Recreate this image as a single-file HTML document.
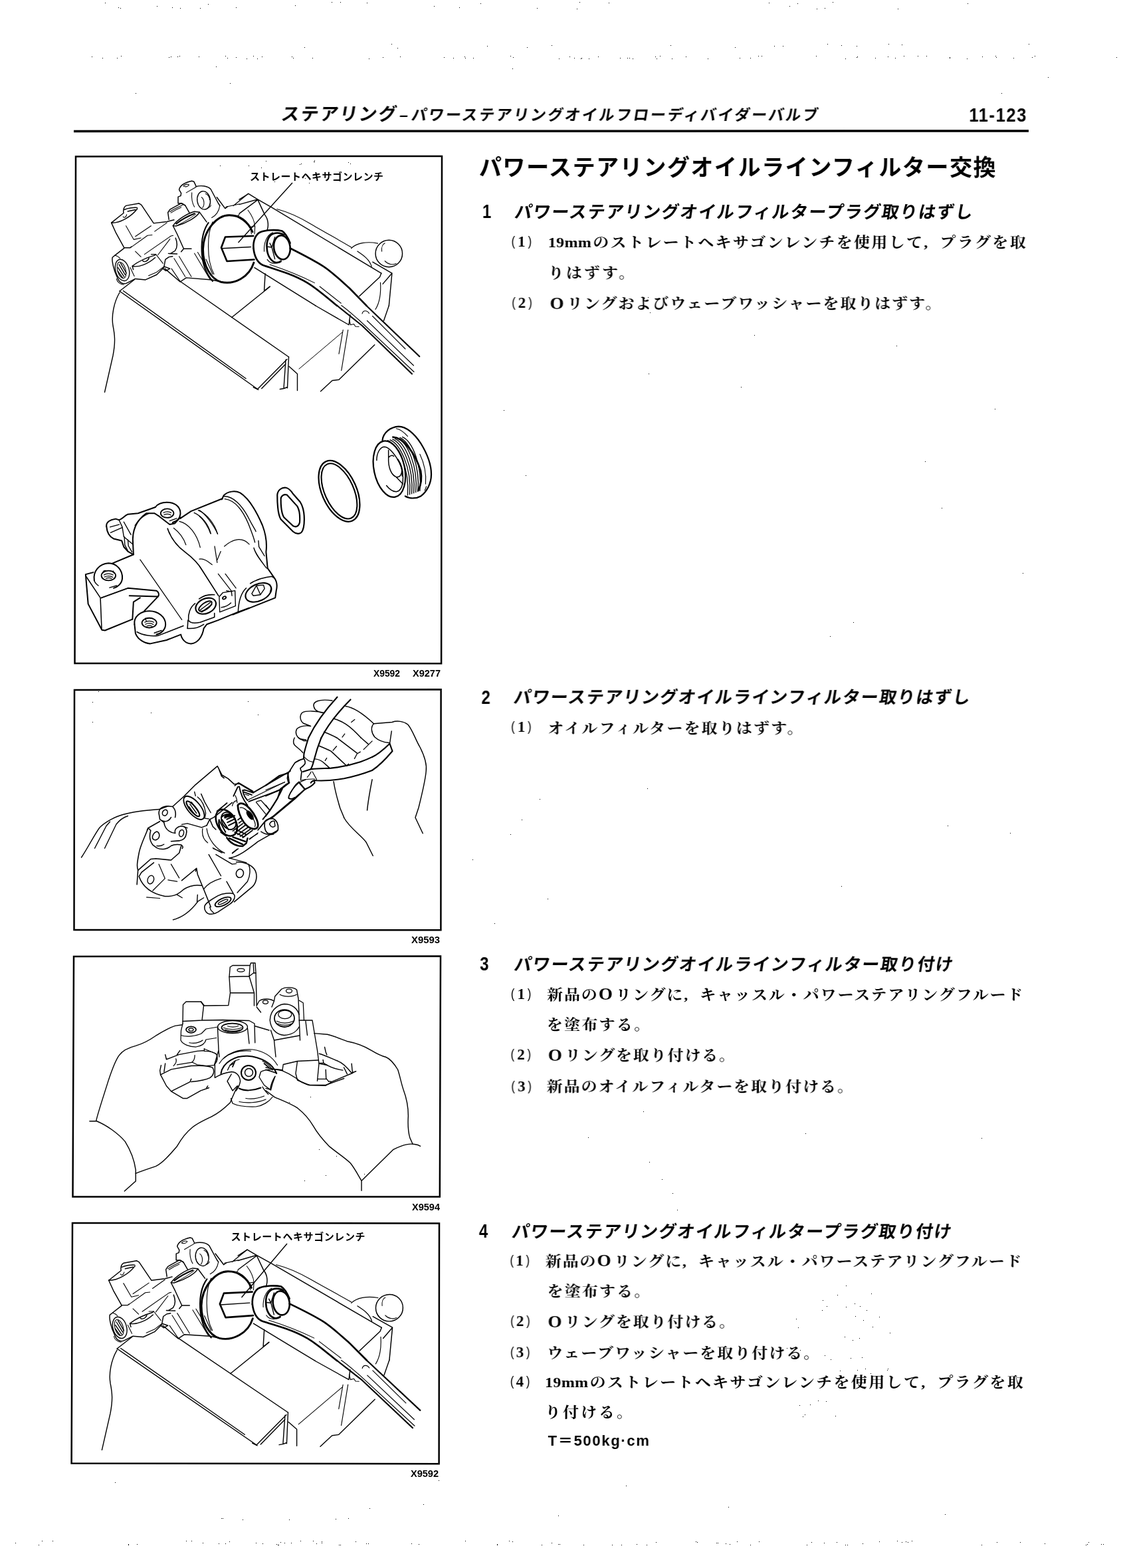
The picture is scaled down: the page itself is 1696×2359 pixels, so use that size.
<!DOCTYPE html>
<html lang="ja">
<head>
<meta charset="utf-8">
<title>11-123 パワーステアリングオイルラインフィルター交換</title>
<style>
html,body{margin:0;padding:0;background:#fff;}
body{width:1696px;height:2359px;overflow:hidden;position:relative;}
#page{position:absolute;left:0;top:0;width:1696px;height:2359px;overflow:hidden;background:#fff;color:#000;}
#art{position:absolute;left:0;top:0;transform:translateZ(0);will-change:transform;}
#txt{position:absolute;left:0;top:0;width:1696px;height:2359px;transform-origin:0 0;transform:skewX(-0.19deg) translateZ(0);will-change:transform;}
.t{position:absolute;white-space:nowrap;line-height:1;color:#000;transform-origin:0 50%;}
.hd{font-family:"Liberation Sans","Noto Sans CJK JP",sans-serif;font-weight:700;font-size:23px;transform:skewX(-9deg);}
.pn{font-family:"Liberation Sans","Noto Sans CJK JP",sans-serif;font-weight:700;font-size:30px;transform:scaleX(0.85);}
.ttl{font-family:"Liberation Sans","Noto Sans CJK JP",sans-serif;font-weight:700;font-size:34px;}
.h{font-family:"Liberation Sans","Noto Sans CJK JP",sans-serif;font-weight:700;font-size:26px;transform:skewX(-9deg);}
.hn{font-family:"Liberation Sans","Noto Sans CJK JP",sans-serif;font-weight:700;font-size:30px;transform:scaleX(0.8);}
.b{font-family:"Liberation Serif","Noto Serif CJK SC",serif;font-weight:700;font-size:22px;transform:scaleX(1.09);}
.b .l{letter-spacing:0.3px;margin-right:2px;}
.b .o{margin-right:2px;font-size:25px;line-height:0;position:relative;top:0.5px;}
.b .k{}
.b .cm{display:inline-block;width:22px;}
.bn{font-family:"Liberation Serif","Noto Serif CJK SC",serif;font-weight:700;font-size:23px;}
.bn .p:first-child{margin-right:3px;}
.bn .p:last-child{margin-left:3px;}
.bn .p{font-weight:400;font-family:"Liberation Sans",sans-serif;font-size:21px;position:relative;top:-1.5px;display:inline-block;transform:scaleX(0.8);}
.tq{font-family:"Liberation Sans","Noto Sans CJK JP",sans-serif;font-weight:700;font-size:22px;}
.hd .w{letter-spacing:2.2px;font-size:27px;}
.hd .d{letter-spacing:0;margin:0 5px 0 3px;}

</style>
</head>
<body>
<div id="page">
<svg id="art" width="1696" height="2359" viewBox="0 0 1696 2359">
<g id="frames" fill="none" stroke="#000" stroke-width="2.5" stroke-linejoin="miter">
<line x1="111" y1="197.4" x2="1548" y2="197" stroke-width="3.5"/>
<polygon points="114,235.4 665,234.9 664.1,998.2 112.5,997.9"/>
<polygon points="112,1038 663.6,1037.2 663.4,1399.2 111.5,1399"/>
<polygon points="111,1439 663,1438.5 661.8,1800.6 109.5,1800.4"/>
<polygon points="109,1840 661,1840.4 660.6,2202.2 107.6,2201.6"/>
</g>
<g id="caps" font-family="'Liberation Sans','Noto Sans CJK JP',sans-serif" font-weight="700" font-size="14.5" fill="#000">
<text x="562" y="1018" textLength="40" lengthAdjust="spacingAndGlyphs">X9592</text>
<text x="621" y="1018" textLength="42" lengthAdjust="spacingAndGlyphs">X9277</text>
<text x="619" y="1419" textLength="43" lengthAdjust="spacingAndGlyphs">X9593</text>
<text x="620" y="1821" textLength="42" lengthAdjust="spacingAndGlyphs">X9594</text>
<text x="618" y="2222" textLength="42" lengthAdjust="spacingAndGlyphs">X9592</text>
</g>

<g id="fig1" transform="translate(120,250) scale(0.25)">
<g fill="none" stroke="#000" stroke-width="5.6" stroke-linecap="round" stroke-linejoin="round">
<!-- vise -->
<path d="M240,752 L1068,1340 M262,750 L1000,1278"/>
<path d="M330,682 L240,752"/>
<path d="M600,690 L1258,1148"/>
<path d="M1258,1148 L1250,1335 M1240,1165 L1228,1338 M1070,1342 L1248,1162 M1095,1338 L1240,1190 M1205,1342 L1228,1338 L1250,1330 M1045,1330 L1075,1345"/>
<path d="M240,760 C205,820 190,900 200,960 C212,1020 215,1060 200,1140 L150,1360"/>
<path d="M915,910 L1145,725"/>
<path d="M1420,840 L1620,955 L1628,895"/>
<path d="M1861,840 L1830,930"/>
<path d="M1810,700 C1815,780 1800,830 1780,862" stroke-width="4.5"/>
<path d="M1450,1355 L1520,1290 L1560,1285 L1775,1075"/>
<path d="M1320,1220 L1580,1000" stroke-width="4"/>
<path d="M1585,985 L1560,1130 M1615,985 L1575,1230" stroke-width="4.5"/>
<path d="M1260,1205 L1310,1250 L1310,1350"/>
<path d="M1622,925 L1630,955 L1650,950 L1660,965 L1680,966" stroke-width="4.5"/>
<!-- wrench handle far part -->
<g stroke-width="8.5">
<path d="M1726,840 L2045,1145"/>
<path d="M1548,838 C1600,880 1650,920 1700,960 L2000,1250"/>
</g>
<path d="M1575,838 C1620,870 1650,900 1680,925 L2012,1238" stroke-width="4.5"/>
<path d="M1700,888 C1705,866 1730,866 1742,886 M1730,930 L2010,1200 M1762,902 L1960,1100" stroke-width="4.5"/>
<!-- hex shaft -->
<g stroke-width="10.5">
<path d="M852,490 L876,426 L1045,420 M852,490 L886,572 L1050,562"/>
</g>
<path d="M856,495 L1030,486"/>
<!-- flange -->
<path d="M1040,395 C1010,330 960,295 900,295 C830,295 745,380 742,500 C742,600 790,680 850,697 C930,715 1020,670 1048,580" stroke-width="11.5"/>
<path d="M775,340 C718,420 716,600 800,692" stroke-width="8.5"/>
<path d="M800,335 C768,400 760,560 808,650 M760,560 L800,650" stroke-width="4.5"/>
<!-- socket / wrench near part / far jaw edge / ball (traced at 6.5x) -->
<g transform="translate(960,120) scale(0.6131)" stroke-width="9.5">
<g stroke-width="17">
<path d="M140,610 C135,540 160,470 210,450 C260,430 360,425 420,440 C450,460 480,510 500,560"/>
<path d="M140,610 C150,700 180,750 230,775 C300,800 400,830 480,860 C560,890 620,920 670,950 C740,990 860,1090 960,1174"/>
<ellipse cx="420" cy="602" rx="80" ry="118" transform="rotate(-8 420 602)"/>
<path d="M272,610 C265,540 290,480 340,465 C370,455 420,460 440,480 M272,610 C275,680 310,740 360,750 C385,752 400,745 410,735"/>
<path d="M500,610 C600,660 720,720 830,790 C920,850 1000,930 1080,1000 L1250,1174"/>
</g>
<path d="M245,640 C240,560 270,480 330,455 M275,720 C300,760 340,770 410,745" stroke-width="7"/>
<path d="M280,595 L320,600 L350,500 M320,600 L350,715 M300,560 L320,600" stroke-width="9"/>
<path d="M300,770 C450,820 600,880 740,950 M790,985 L1000,1150" stroke-width="7"/>
<!-- jaw near edge -->
<path d="M150,800 L750,1174 M255,860 L245,1030 M300,985 L250,1025"/>
<!-- far edge -->
<path d="M0,132 L90,75 L180,130 L320,210 L1395,855"/>
<path d="M370,225 C500,260 600,310 700,370 C800,430 1000,540 1100,600" stroke-width="7"/>
<path d="M1100,610 C1150,560 1250,540 1360,562 M1160,640 C1220,680 1280,720 1300,790" stroke-width="8"/>
<path d="M1395,855 L1380,892 L1180,1080 M1310,745 L1500,855 L1470,1174 M1500,855 L1410,960"/>
<circle cx="1470" cy="662" r="132"/>
<path d="M1400,640 C1395,600 1410,570 1430,560 M1430,735 C1460,770 1510,775 1540,760" stroke-width="7"/>
<!-- block behind flange -->
<path d="M0,180 L180,130 L250,280 C290,330 290,400 270,440 M0,270 L175,140 M0,312 C50,340 90,380 120,420" />
<path d="M85,235 C120,280 150,340 155,400 M110,400 L155,395 L150,470 M110,400 L120,470" stroke-width="7"/>
</g>
<path d="M880,245 L960,228 M1015,165 L925,238 M950,300 L960,292" stroke-width="5"/>
<!-- valve body (traced at 6.5x) -->
<g transform="translate(120,40) scale(0.6131)" stroke-width="9.5">
<!-- boss A -->
<path d="M115,490 L235,395 C228,360 240,330 260,322 L385,300 L410,315 L530,495 L660,480 L730,462"/>
<path d="M115,490 C200,495 310,430 370,352 M240,362 C280,345 340,338 368,342 M275,378 L350,362"/>
<path d="M230,430 C235,446 260,440 265,410" stroke-width="7"/>
<path d="M115,490 L160,590 L240,735 L300,735 L312,725"/>
<path d="M258,520 L335,655 L405,640 M350,625 L505,520 M540,575 L660,490 M312,728 L470,615 L515,610" stroke-width="7"/>
<!-- boss B -->
<path d="M780,165 C790,120 850,92 905,80 L925,86 L945,128 M780,165 L800,200 L796,226 L770,236 L770,300 L810,300 L840,320"/>
<path d="M822,130 C835,112 865,108 878,118 C870,135 840,142 822,130 Z M850,195 L945,140" stroke-width="7"/>
<path d="M945,135 C1000,120 1060,130 1090,160 L1165,300 L1180,322 M1150,240 L1232,350 L1255,332"/>
<ellipse cx="1022" cy="270" rx="64" ry="90" transform="rotate(-8 1022 270)" stroke-width="9"/>
<path d="M1000,240 C1030,262 1030,320 1010,342 M1040,205 C1065,215 1078,240 1080,265 M1060,345 C1080,340 1090,330 1092,318" stroke-width="7"/>
<path d="M905,195 C900,250 910,300 930,335 M1180,322 C1170,380 1140,420 1100,440" stroke-width="7"/>
<!-- small boss -->
<path d="M680,460 L670,390 L690,360 L800,300 L840,320 L880,390"/>
<path d="M690,382 C720,360 780,332 812,318 M700,392 C730,372 770,352 800,340" stroke-width="7"/>
<!-- boss C -->
<path d="M720,520 C760,460 860,400 930,380 L980,386 C960,430 860,490 750,522 Z"/>
<path d="M752,500 C800,462 880,420 932,400" stroke-width="14"/>
<path d="M770,512 C820,488 900,440 945,405" stroke-width="6"/>
<path d="M720,520 L760,600 L825,745 L900,745 M980,386 L1050,482 M825,745 L800,775 M745,640 C765,690 765,730 740,765 L700,790 M675,792 L760,796"/>
<!-- port D -->
<path d="M240,740 L150,810 L125,830 C118,870 140,960 170,1020 C190,1080 230,1102 270,1080 L350,1040 L450,1050 L560,1000 L630,930"/>
<ellipse cx="222" cy="955" rx="66" ry="108" transform="rotate(-16 222 955)" stroke-width="9"/>
<ellipse cx="215" cy="955" rx="40" ry="82" transform="rotate(-16 215 955)" stroke-width="7"/>
<path d="M190,900 L250,1000 M180,930 L240,1020 M205,885 L262,985 M178,965 L225,1030" stroke-width="9"/>
<path d="M150,810 C170,815 190,825 200,840 M300,930 L340,1015 M165,1040 C170,1070 200,1095 235,1098" stroke-width="7"/>
<!-- boss E -->
<path d="M320,915 C380,870 470,830 540,810 L550,800 M320,915 C380,932 480,892 545,832 M320,915 L330,950"/>
<path d="M420,860 C430,882 470,872 485,836" stroke-width="9"/>
<path d="M350,770 L405,825 M440,800 L700,620 L722,615 M505,800 L552,800 L622,890 M572,806 L690,650 M480,1010 L560,975 L632,920" stroke-width="7"/>
<path d="M632,920 L645,850 L680,826 L716,820 M632,920 L690,940 L650,962 L620,940"/>
<!-- main body -->
<path d="M640,940 L790,1070 L850,1030 L1100,1050 L1200,1072"/>
<path d="M730,840 L840,1020 M780,820 L900,1020 M705,940 L790,1066 M930,790 L1080,1040 M962,780 L1100,1010" stroke-width="7"/>
</g>
</g>
</g>
<path d="M440,275 L358.5,365" fill="none" stroke="#000" stroke-width="1.4"/>
<text x="376" y="270.5" font-family="'Liberation Sans','Noto Sans CJK JP',sans-serif" font-weight="700" font-size="15" textLength="201" lengthAdjust="spacing" fill="#000">ストレートヘキサゴンレンチ</text>

<g id="fig1b" transform="translate(125,740) scale(0.15328)" fill="none" stroke="#000" stroke-width="13" stroke-linecap="round" stroke-linejoin="round">
<!-- left block -->
<path d="M25,810 L100,790 M25,810 L50,1100 L185,1355 L215,1360 L485,1250"/>
<path d="M30,830 L170,1040 L183,1352" stroke-width="10"/>
<path d="M180,1040 L440,945 L720,970 C745,985 750,1010 735,1030 M455,1020 L735,1028 L600,1170 M560,1040 L495,1080 L485,1250"/>
<!-- boss 1 -->
<path d="M110,870 C95,780 160,705 250,700 C330,700 390,770 385,850 C380,900 340,935 300,945"/>
<path d="M110,870 C115,890 130,905 150,920 M260,940 L330,920" stroke-width="9"/>
<ellipse cx="250" cy="822" rx="70" ry="48" stroke-width="12"/>
<path d="M205,815 C225,800 270,800 295,815 M210,835 C235,822 270,822 292,838 M225,850 C245,842 265,842 280,852 M195,790 C200,775 210,770 220,772 M295,775 L305,800" stroke-width="8"/>
<path d="M290,700 L495,615"/>
<!-- upper lug -->
<path d="M230,340 C225,300 260,275 320,265 L350,275 C380,270 400,240 440,220 L540,210 L710,150"/>
<path d="M230,340 C235,400 260,440 300,460 L380,480 L400,540 L440,585 L495,615 L490,510"/>
<path d="M355,280 L385,345 L400,440 L490,515 M270,400 L385,350 M265,345 L355,320 M400,295 L470,420 M405,440 L410,520 L440,580 M440,470 L445,530 L480,590" stroke-width="9"/>
<path d="M490,510 C480,400 510,290 620,210 L700,210 L740,235"/>
<path d="M510,330 C540,280 590,235 640,215" stroke-width="9"/>
<!-- boss 2 -->
<path d="M710,150 C740,110 800,100 850,105 C920,115 960,160 955,220 C950,260 920,290 880,300 M740,235 L850,320 L900,310 L955,250"/>
<ellipse cx="826" cy="210" rx="64" ry="44" stroke-width="12"/>
<path d="M790,205 C810,192 845,192 865,205 M795,225 C815,215 845,215 862,228 M850,285 L920,260 M880,300 L910,290" stroke-width="8"/>
<path d="M955,260 L1060,190 L1370,65"/>
<!-- ridge & body -->
<path d="M830,360 C860,450 920,530 1000,590 C1080,650 1130,700 1170,770 L1330,1020" stroke-width="11"/>
<path d="M890,355 C950,400 990,460 1010,520 M945,290 C1040,310 1120,420 1150,545 M1090,205 C1170,240 1230,320 1255,410 M1130,180 C1220,220 1290,310 1320,410" stroke-width="8"/>
<path d="M560,665 L970,1255" stroke-width="8"/>
<!-- middle port -->
<ellipse cx="1205" cy="1120" rx="105" ry="72" transform="rotate(-25 1205 1120)" stroke-width="14"/>
<ellipse cx="1200" cy="1122" rx="75" ry="32" transform="rotate(-35 1200 1122)" stroke-width="12"/>
<path d="M1150,1160 L1250,1085 M1165,1180 L1265,1105" stroke-width="9"/>
<path d="M1100,1095 C1050,1130 1030,1200 1035,1260 C1050,1290 1100,1290 1150,1280 L1290,1230 L1290,1190 M1030,1260 L1025,1340 M1140,1050 C1180,1020 1240,1005 1290,1010" stroke-width="10"/>
<!-- boss 3 -->
<path d="M505,1300 C495,1230 560,1170 650,1170 C740,1170 810,1230 810,1300 C810,1350 770,1390 720,1400"/>
<ellipse cx="650" cy="1286" rx="72" ry="48" stroke-width="12"/>
<path d="M605,1280 C630,1265 670,1265 695,1280 M612,1300 C635,1288 668,1288 690,1302 M625,1318 C645,1310 662,1310 678,1320 M610,1240 L620,1265" stroke-width="8"/>
<path d="M505,1300 L515,1390 C540,1450 600,1485 660,1490 L820,1455 L960,1400 C970,1450 1010,1490 1060,1490 C1120,1485 1170,1430 1185,1340 L1215,1300 L1325,1260 L1520,1180 L1631,1140"/>
<path d="M530,1375 C590,1410 680,1420 740,1410 L985,1315 M1025,1340 C1080,1345 1140,1330 1185,1300 M700,1385 L770,1360" stroke-width="10"/>
</g>
<g id="fig1b2" transform="translate(300,720) scale(0.15328)" fill="none" stroke="#000" stroke-width="13" stroke-linecap="round" stroke-linejoin="round">
<!-- flange -->
<path d="M220,205 L240,165 C280,125 350,115 400,140 C480,190 560,320 620,460 C650,540 665,640 655,720 L670,880 L740,980 C760,1010 765,1060 755,1100 L745,1170 L380,1315 L330,1335"/>
<path d="M240,175 C330,170 420,260 490,400 C530,480 550,500 555,520 M250,200 C340,210 420,300 480,440 C520,540 540,600 545,625 M580,610 L585,670 L640,760 M535,680 C550,740 600,800 660,880" stroke-width="9"/>
<path d="M0,310 C50,340 140,450 180,545 M0,370 C40,400 90,480 110,540 M245,665 C330,590 420,570 490,645 M150,665 L175,825 M175,800 L210,715 M0,790 C40,780 80,810 125,845 M185,935 L320,1110 M255,935 L360,1075" stroke-width="8"/>
<!-- small square -->
<path d="M195,1160 L230,1120 L350,1100 L355,1250 L200,1310 Z M265,1100 L315,1110 L320,1150 M215,1265 C250,1260 290,1240 310,1220" stroke-width="9"/>
<ellipse cx="245" cy="1170" rx="18" ry="12" transform="rotate(-30 245 1170)" stroke-width="12"/>
<!-- right port -->
<path d="M380,1315 C385,1200 410,1120 460,1075 M500,1030 C560,990 650,965 710,960 L740,980" stroke-width="10"/>
<ellipse cx="580" cy="1118" rx="135" ry="82" transform="rotate(-25 580 1118)" stroke-width="14"/>
<path d="M515,1130 L560,1050 L630,1045 L640,1080 L600,1140 L530,1150 Z M560,1050 L600,1140" stroke-width="9"/>
<path d="M690,1040 C705,1060 705,1090 695,1110" stroke-width="9"/>
<!-- washer -->
<g stroke-width="14">
<path d="M765,160 C770,110 810,85 850,90 C880,95 900,120 920,150 L990,230 C1015,270 1030,330 1030,400 C1030,460 1020,510 1000,530 C980,545 950,545 920,520 L800,400 C775,360 765,300 765,160 Z"/>
<path d="M800,200 C800,170 830,150 860,160 L960,270 C985,310 990,360 985,430 C975,470 950,480 920,465 L830,380 C805,340 800,280 800,200 Z"/>
</g>
</g>
<g id="fig1c" transform="translate(470,630) scale(0.12262)" fill="none" stroke="#000" stroke-width="12" stroke-linecap="round" stroke-linejoin="round">
<!-- o-ring -->
<ellipse cx="330" cy="888" rx="212" ry="398" transform="rotate(-24 330 888)" stroke-width="18"/>
<ellipse cx="330" cy="888" rx="178" ry="362" transform="rotate(-24 330 888)" stroke-width="17"/>
<!-- plug -->
<g stroke-width="18">
<path d="M860,265 C870,170 960,100 1060,95 C1150,95 1250,180 1330,300 C1410,430 1460,570 1460,680 C1460,800 1400,900 1330,950 C1280,980 1200,985 1140,950"/>
<ellipse cx="945" cy="617" rx="188" ry="350" transform="rotate(-12 945 617)"/>
<path d="M990,225 C1120,230 1260,420 1330,640 C1345,720 1340,800 1300,880" stroke-width="22"/>
<path d="M1050,500 C1090,560 1110,640 1105,700"/>
</g>
<path d="M790,510 C790,420 830,350 880,345 C930,345 1000,420 1060,520 C1100,600 1120,700 1110,780 C1100,850 1070,890 1030,895 C990,895 950,870 910,820"/>
<path d="M935,385 L935,480 C930,600 970,690 1030,715 C1080,720 1100,680 1100,620 M940,470 C960,450 980,445 1000,460 M1030,715 L1110,800"/>
<g stroke-width="11">
<path d="M925,266 C1045,316 1195,600 1170,938"/>
<path d="M955,259 C1075,309 1221,595 1195,929"/>
<path d="M985,252 C1105,302 1247,590 1220,920"/>
<path d="M1015,245 C1135,295 1273,585 1245,911"/>
<path d="M1045,238 C1165,288 1299,580 1270,902"/>
<path d="M1075,231 C1195,281 1325,575 1295,893"/>
<path d="M1105,224 C1225,274 1351,570 1320,884"/>
</g>
<path d="M1030,120 C1080,130 1130,170 1170,215 M1320,435 C1370,540 1400,680 1390,800 M1380,880 L1400,830" stroke-width="9"/>
</g>

<g id="fig2a" transform="translate(110,1130) scale(0.25)" fill="none" stroke="#000" stroke-width="5.5" stroke-linecap="round" stroke-linejoin="round">
<!-- left hand -->
<path d="M50,640 C90,580 130,500 160,460 C190,430 250,395 300,382 C360,365 450,355 520,350"/>
<path d="M130,585 L200,450 L222,425 M190,585 L260,440 C280,415 305,398 330,390"/>
</g>
<g id="fig2z" transform="translate(190,1130) scale(0.15328)" fill="none" stroke="#000" stroke-width="10" stroke-linecap="round" stroke-linejoin="round">
<!-- top block -->
<path d="M455,545 L565,445 L680,330 L895,148 L940,235 L1000,270 L1060,325 L1110,320 L1250,405 M905,165 L935,245 L960,265 M330,570 L410,540 L455,545"/>
<!-- port -->
<ellipse cx="665" cy="557" rx="62" ry="140" transform="rotate(-40 665 557)" stroke-width="12"/>
<ellipse cx="655" cy="566" rx="28" ry="95" transform="rotate(-40 655 566)" stroke-width="14"/>
<path d="M625,520 L690,610 M615,545 L675,625 M640,500 L705,590" stroke-width="9"/>
<path d="M670,400 L680,440 M735,420 L770,500 L830,605 M700,450 C740,480 770,540 780,610 L770,660 L810,665" stroke-width="9"/>
<!-- ears -->
<path d="M320,610 C320,570 350,545 400,540 M455,545 C480,570 490,610 480,650 M320,610 L330,670 L370,700 M345,680 C380,700 420,690 440,650"/>
<ellipse cx="380" cy="605" rx="24" ry="30" transform="rotate(25 380 605)" stroke-width="10"/>
<path d="M370,700 C380,760 420,800 480,805 M330,690 L215,755 L205,775"/>
<path d="M215,755 L240,780 C225,830 230,880 260,920 L300,950 C350,975 410,960 440,930 C470,915 510,915 540,920 C555,930 560,945 550,955"/>
<path d="M300,790 C270,800 250,830 260,860 C280,885 320,870 325,830 C325,810 315,795 300,790" stroke-width="10"/>
<path d="M480,805 C470,770 500,740 540,735 C580,735 600,770 590,810 C585,850 560,875 520,880 L440,885"/>
<ellipse cx="542" cy="806" rx="22" ry="34" transform="rotate(15 542 806)" stroke-width="10"/>
<path d="M300,930 C330,935 350,930 370,915 M560,740 L600,755 M545,720 L600,710 L740,750 L790,730" stroke-width="9"/>
<!-- left outline -->
<path d="M215,755 C180,850 140,920 125,1000 C110,1080 100,1130 115,1170 L105,1310"/>
<!-- lower-left lug -->
<path d="M115,1170 L240,1060 L290,1055 L440,1070 L520,1000 L540,930 M125,1230 L150,1190 L270,1095 M125,1230 C160,1330 250,1400 380,1425 C450,1430 500,1415 560,1360 C620,1320 680,1310 740,1320"/>
<path d="M380,1250 L350,1180 L320,1110 M380,1250 L260,1370 M410,1265 L500,1280 M440,1110 L520,1245 M200,1435 L330,1445 M500,1410 L550,1440" stroke-width="8"/>
<ellipse cx="240" cy="1262" rx="30" ry="42" transform="rotate(20 240 1262)" stroke-width="9"/>
<path d="M545,1270 L690,1150 L700,1210 L760,1355 L830,1530 M690,1150 L680,1180"/>
<!-- body lower/right -->
<path d="M760,1355 C800,1300 860,1270 930,1250 M810,1015 L930,1225 M880,1015 L1040,1110 L1080,1105 M1010,1050 L1180,1095" stroke-width="9"/>
<path d="M1080,1090 C1150,1085 1230,1110 1265,1170 C1290,1220 1280,1290 1240,1330 L1060,1480"/>
<ellipse cx="1115" cy="1200" rx="36" ry="42" transform="rotate(15 1115 1200)" stroke-width="10"/>
<path d="M1200,1110 C1220,1150 1220,1220 1190,1280 L1090,1390 M985,1280 L1050,1395" stroke-width="9"/>
<path d="M770,1520 C780,1490 830,1460 900,1420 C950,1395 1020,1390 1050,1400 C1080,1420 1060,1470 1020,1500 L900,1580 C860,1605 810,1610 785,1580 C770,1560 765,1540 770,1520 Z"/>
<ellipse cx="950" cy="1480" rx="85" ry="34" transform="rotate(-25 950 1480)" stroke-width="12"/>
<ellipse cx="950" cy="1480" rx="52" ry="13" transform="rotate(-25 950 1480)" stroke-width="9"/>
<path d="M820,1530 L830,1560 L860,1590 M700,1410 L695,1480 L760,1440" stroke-width="9"/>
<path d="M460,1655 C560,1630 640,1560 700,1480"/>
<!-- housing -->
<path d="M790,730 L820,670 L860,650 L1040,505 M820,670 L850,740 L880,770 M890,590 L990,510"/>
<path d="M750,760 C740,820 760,870 800,900 M790,760 C800,860 880,960 965,1000 M850,950 L940,1000 M1040,1000 L1090,960 M1210,860 L1290,810" stroke-width="8"/>
<path d="M1010,1050 C1100,1040 1200,960 1290,890 L1490,775"/>
</g>
<g id="fig2f" transform="translate(310,1160) scale(0.09197)" fill="none" stroke="#000" stroke-width="16" stroke-linecap="round" stroke-linejoin="round">
<path d="M470,240 L530,190 L770,330" />
<g stroke-width="20">
<path d="M450,410 L520,260 L545,255 C560,350 600,460 680,560"/>
<path d="M600,315 L640,310 L770,355 M600,315 C610,380 640,440 680,480 M620,345 L750,390"/>
<path d="M770,355 L1380,0 M700,500 L1210,310 L1300,240 L1360,190 L1340,40"/>
<path d="M1631,290 L1100,740 L960,830 L850,965 M1250,290 C1200,400 1130,520 1050,640 L930,790"/>
</g>
<path d="M690,470 L1290,180 M480,400 C500,440 510,480 510,520 M430,570 C440,520 470,490 500,485 M640,380 L700,400" stroke-width="13"/>
<path d="M830,500 L900,480 L1040,640 M820,510 L990,720 M900,480 L1000,590" stroke-width="14"/>
<!-- right disc -->
<g stroke-width="30">
<path d="M520,560 C560,500 640,530 720,620 C800,710 860,830 850,900 C840,950 780,960 720,930 C700,920 660,890 620,840 C560,760 520,640 520,560 Z"/>
</g>
<path d="M560,600 C600,580 680,640 740,730 C790,800 820,870 800,910" stroke-width="14"/>
<ellipse cx="720" cy="722" rx="34" ry="82" transform="rotate(-35 720 722)" fill="#000" stroke-width="14"/>
<!-- left disc -->
<ellipse cx="335" cy="845" rx="150" ry="235" transform="rotate(-30 335 845)" stroke-width="28"/>
<path d="M300,745 C330,700 400,688 445,720 L425,765 C392,742 345,748 312,775 Z" fill="#000" stroke-width="10"/>
<path d="M215,800 C200,860 220,950 280,1020 M245,1000 L330,1060" stroke-width="26"/>
<ellipse cx="370" cy="815" rx="110" ry="150" transform="rotate(-30 370 815)" stroke-width="20"/>
<path d="M250,760 C280,720 340,700 400,705 M230,830 L320,1000 M260,790 L370,960 M200,900 L300,1040 M340,790 L470,730 M350,840 L480,780 M370,890 L490,830 M330,740 L420,700" stroke-width="21"/>
<!-- ribs -->
<path d="M440,980 L600,860 M480,1010 L650,880 M520,1040 L700,910 M560,1070 L740,940 M600,1090 L760,970 M520,800 L560,770 M540,850 L580,820 M470,1000 L620,1080 M500,960 L660,1040" stroke-width="19"/>
<!-- bottom -->
<g stroke-width="26">
<path d="M340,1090 C400,1180 480,1230 600,1230 L660,1180 L680,1100"/>
<path d="M380,1100 L600,1200 M440,1080 L640,1150"/>
</g>
<!-- end ring -->
<path d="M960,850 C960,800 1020,770 1100,780 C1150,800 1190,870 1180,950 C1170,1000 1100,1040 1020,1020 C970,1000 950,920 960,850 Z" stroke-width="18"/>
<path d="M1040,870 C1050,830 1090,810 1120,820 L1130,900 C1100,930 1060,920 1040,870 Z M900,990 C960,1030 1040,1050 1110,1030" stroke-width="16"/>
<path d="M710,1120 L850,1010 M180,670 L340,520 M120,1270 L300,1340 M430,1350 L530,1270" stroke-width="12"/>
<!-- joint right -->
<path d="M1350,430 C1380,350 1450,250 1520,190 L1631,140 M1350,430 C1370,460 1410,460 1450,430 M1520,190 L1600,280" stroke-width="14"/>
</g>
<g id="fig2b" transform="translate(280,1040) scale(0.25)" fill="none" stroke="#000" stroke-width="5.8" stroke-linecap="round" stroke-linejoin="round">
<!-- pliers handles (outside joint region) -->
<g stroke-width="8.5">
<path d="M910,35 C850,100 780,190 737,280"/>
<path d="M990,50 C920,120 850,210 814,280"/>
<path d="M1120,396 C1160,378 1200,340 1226,315 L1242,360 C1200,410 1160,450 1120,476"/>
</g>
<!-- fingers -->
<path d="M770,95 C758,62 800,45 880,56 M770,95 C775,115 800,128 832,130 M832,130 C790,118 720,115 700,128 C682,145 685,175 705,192 L750,210 M750,210 C715,203 680,212 666,228 C655,250 665,275 685,287 L722,292"/>
<!-- knuckles above region -->
<path d="M960,90 C1000,95 1050,120 1130,195 M890,165 C940,180 980,200 1053,280 M830,245 C860,255 885,268 908,280"/>
<path d="M995,186 L1015,170 M940,276 L955,256" stroke-width="5"/>
<!-- thumb & hand -->
<path d="M1130,195 C1110,215 1115,250 1135,275 C1160,298 1195,308 1222,310 M1130,195 L1240,186 C1270,175 1310,180 1335,200 C1365,235 1380,290 1410,340 C1440,400 1450,440 1445,480 C1440,540 1420,620 1400,700 L1380,760 L1425,855"/>
<path d="M1237,240 L1226,315 M950,760 C990,830 1060,870 1085,910 L1125,990"/>
<!-- joint region traced at 10x -->
<g transform="translate(480,280) scale(0.3925)" stroke-width="15">
<g stroke-width="21">
<path d="M655,0 C630,80 600,170 585,250 L580,320"/>
<path d="M850,0 C810,100 770,220 740,340 C725,400 710,450 690,480"/>
<path d="M570,520 L700,480 C800,470 900,470 1000,465 C1150,450 1300,420 1450,370 C1520,345 1580,320 1631,295"/>
<path d="M690,690 C710,660 740,650 780,655 C900,660 1050,650 1200,625 C1350,595 1500,550 1631,500"/>
<path d="M510,680 L600,790 C650,770 720,730 750,690 L745,670"/>
<path d="M600,790 L440,940 L100,1223"/>
<path d="M360,690 L230,780 L180,930 L70,1100 L0,1200"/>
<path d="M345,540 L210,580 L0,730 M320,710 L210,800 L0,890"/>
</g>
<path d="M440,0 C420,40 420,80 440,110 C480,150 540,190 570,230 M500,0 L580,45 L625,45"/>
<path d="M585,320 C540,330 480,360 450,380 C420,420 390,470 360,520 L345,540 L330,620 L345,680 L360,690 M585,320 C600,350 610,380 600,400 C580,430 550,450 530,465 C530,490 545,510 550,520 L535,640" stroke-width="17"/>
<path d="M590,295 C620,330 660,365 720,370 M715,520 L780,640 M635,605 C660,580 680,560 695,520 M535,655 C580,640 640,630 750,632 M290,680 L0,800 M0,1030 L60,1110" stroke-width="12"/>
<path d="M350,930 C345,900 370,850 410,790 C440,740 470,700 510,675 M350,930 C370,945 420,940 450,925"/>
<path d="M820,125 C880,150 950,180 1000,205 L1240,430 M1090,0 L1400,235 M1460,0 L1570,95 M760,325 C800,330 850,350 880,375 L975,460"/>
<path d="M1030,195 L1085,130 M910,350 L935,310 M1360,320 L1400,245 L1450,215 M1500,180 L1631,50 M1270,400 L1240,430" stroke-width="13"/>
<path d="M1040,670 C1060,800 1100,950 1140,1080 L1200,1223 M1631,640 C1600,800 1570,950 1555,1110"/>
</g>
</g>

<g id="fig3" transform="translate(110,1440) scale(0.25)" fill="none" stroke="#000" stroke-width="5.5" stroke-linecap="round" stroke-linejoin="round">
<!-- left hand (traced at 5.6x) -->
<g transform="translate(0,320) scale(0.7112)" stroke-width="8">
<path d="M195,935 C215,850 260,720 300,590 C330,500 360,420 390,380 C420,340 470,315 530,300 C600,280 650,250 700,215 C760,180 820,140 870,130 L925,122"/>
<path d="M140,938 L200,938 C280,970 380,1040 440,1110 C490,1190 520,1280 530,1350 L530,1445 L435,1530"/>
<path d="M530,1380 C580,1360 640,1340 700,1320 C760,1290 820,1220 880,1150 C920,1080 960,1030 1010,990 C1060,950 1110,930 1170,900 C1230,870 1290,820 1330,780 C1350,730 1370,680 1395,640"/>
<path d="M780,375 L790,415 L895,375 L1050,345 L1110,340 M1110,325 L1110,345 C1160,345 1200,355 1215,375 C1225,400 1220,430 1200,455 M905,340 L880,375"/>
<path d="M870,410 C880,430 870,450 850,470 M1030,380 C1030,410 1020,430 1005,440 M880,460 L1010,440 L1050,460 L1130,470 L1190,465" stroke-width="7"/>
<path d="M745,465 L735,510 L740,545 L830,500 L1000,470 C1080,465 1150,470 1180,485 C1200,510 1190,550 1160,570 C1120,590 1050,600 1000,605 M780,450 L770,520 M1000,580 L990,605 L830,685"/>
<path d="M740,545 L790,640 L830,685 L930,745 L965,745 L1080,680 L1150,655 M1130,655 L1140,640"/>
<path d="M1200,570 C1240,545 1300,525 1340,520 C1380,520 1410,550 1415,600 C1410,640 1395,660 1380,680 M1340,540 L1305,600 L1350,680 L1390,640 M1200,455 L1200,570"/>
</g>
<!-- bracket -->
<path d="M945,60 L960,50 L1065,50 L1070,35 L1096,35 L1100,95 L1105,292 M945,60 L940,120 L946,215 L935,290 L790,292 L770,268 L680,268 L662,286 L660,400"/>
<path d="M940,118 L1060,115 L1065,50 M1060,115 L1085,96 L1100,95 M1085,40 L1088,95 M1060,115 L1090,215 L1090,292 M950,215 L1090,215"/>
<ellipse cx="1010" cy="78" rx="22" ry="10" stroke-width="5"/>
<path d="M770,268 L786,292 L776,380 M660,386 L776,380 L900,378 L1060,382 L1092,400 L1095,515"/>
<!-- left ear -->
<ellipse cx="710" cy="436" rx="30" ry="19" stroke-width="7"/>
<ellipse cx="710" cy="436" rx="14" ry="9" stroke-width="5"/>
<path d="M660,400 L650,442 L648,500 C660,525 700,540 740,540 C770,535 795,520 800,496 L862,486 M650,470 C680,482 740,475 772,460 L800,432 L872,420 M790,552 L862,582 M700,515 C730,520 760,515 780,500" stroke-width="5"/>
<!-- centre port -->
<ellipse cx="960" cy="420" rx="90" ry="38"/>
<ellipse cx="958" cy="424" rx="64" ry="26" stroke-width="7"/>
<path d="M905,425 C940,438 985,438 1015,425 M915,436 C945,448 980,448 1008,437 M930,415 C950,422 975,422 995,414" stroke-width="4.5"/>
<path d="M870,425 L876,560 L850,650 M1050,428 L1060,520 M876,560 L880,600"/>
<!-- right port -->
<path d="M1185,380 C1185,330 1220,290 1270,282 C1320,282 1350,310 1360,345 M1185,380 C1190,430 1220,465 1270,470 C1310,468 1345,450 1360,420"/>
<ellipse cx="1272" cy="368" rx="60" ry="52" stroke-width="7"/>
<ellipse cx="1275" cy="345" rx="40" ry="25" stroke-width="5"/>
<path d="M1225,385 C1255,400 1295,400 1325,385 M1232,400 C1260,412 1292,412 1318,400 M1245,412 C1265,420 1290,420 1308,412" stroke-width="4.5"/>
<path d="M1215,236 L1255,192 C1280,178 1325,180 1346,196 L1356,250 L1360,345 L1366,500 M1105,292 L1120,264 C1140,248 1185,248 1210,264 L1196,300 M1105,300 L1130,332 M1215,236 L1210,264 M1245,225 C1270,240 1320,240 1345,225"/>
<ellipse cx="1300" cy="203" rx="18" ry="12" stroke-width="5"/>
<ellipse cx="1158" cy="270" rx="16" ry="11" stroke-width="5"/>
<path d="M1360,260 L1385,275 L1390,380" stroke-width="5"/>
<!-- right body -->
<path d="M1360,380 L1440,380 L1450,440 L1470,560 L1480,640 L1470,745 M1400,386 L1410,470 M1210,500 L1220,600 M1210,500 L1362,472 M1190,440 L1210,500 M1095,415 L1180,440"/>
<path d="M1265,646 L1350,626 L1476,620 M1265,646 L1260,680 M1350,626 L1340,700 L1350,740 L1420,770 L1520,770 L1631,730 M1480,640 L1530,650"/>
<!-- flange / filter -->
<g stroke-width="8">
<path d="M890,700 C900,630 980,592 1050,595 C1130,600 1200,640 1225,700"/>
<circle cx="1056" cy="696" r="44"/>
<path d="M1000,790 C1030,806 1080,806 1130,786"/>
</g>
<circle cx="1058" cy="694" r="24" stroke-width="6"/>
<path d="M880,640 C920,575 1000,552 1080,556 C1150,565 1200,600 1230,650 M905,610 C950,570 1010,560 1070,565 M930,680 C945,640 975,620 1000,615 M1140,625 C1170,640 1190,660 1200,680 M950,850 L960,880 C990,895 1040,902 1100,900 C1140,895 1180,870 1200,842 M1040,850 C1070,855 1110,852 1150,836 M1000,870 C1040,880 1110,878 1160,856" stroke-width="5"/>
<path d="M945,650 L965,640 M975,625 L960,660 M1150,640 L1180,665" stroke-width="7"/>
<!-- right hand (traced at 6x) -->
<g transform="translate(1160,240) scale(0.6622)" stroke-width="8.5">
<path d="M440,330 L560,340 C640,360 700,390 750,405 C830,420 900,450 960,485 C1010,515 1050,535 1090,545 C1130,560 1170,610 1200,660 C1220,720 1230,780 1250,840 C1280,920 1295,1000 1295,1080 C1290,1160 1295,1230 1310,1280 L1335,1335"/>
<path d="M1405,1355 C1380,1340 1330,1330 1280,1340 C1230,1350 1190,1370 1160,1385 L870,1670 L870,1760"/>
<path d="M870,1670 C840,1620 810,1560 770,1510 C720,1460 640,1410 580,1360 C520,1300 470,1240 430,1170 C390,1100 340,1050 290,1010 C230,970 150,940 80,910 L0,850"/>
<path d="M485,515 C540,530 600,560 650,580 C700,595 740,640 780,690 L820,675 M535,455 L545,500 L555,525 M780,605 L785,660 L790,690 M710,640 L740,700"/>
<path d="M520,570 L525,600 C570,630 630,655 700,665 M485,600 L525,600 M790,690 L600,770 L545,805 L400,800 C350,790 310,770 280,740 M545,660 L548,740 L570,765 L600,770 M470,745 L545,745"/>
<path d="M0,640 L150,670 C200,690 250,720 280,740 M85,720 C60,760 45,800 40,840 L0,830 M0,660 L95,690"/>
</g>
<path d="M1130,690 C1160,672 1220,672 1262,680 M1130,690 L1120,722 L1150,770 L1190,800 M1215,720 L1200,762 L1190,800 M1140,780 C1150,800 1160,810 1175,825"/>
</g>

<g id="fig4" transform="translate(116,1842) scale(0.25) matrix(1.011,-0.012,0,1,-2,-1)">
<g fill="none" stroke="#000" stroke-width="5.6" stroke-linecap="round" stroke-linejoin="round">
<!-- vise -->
<path d="M240,752 L1068,1340 M262,750 L1000,1278"/>
<path d="M330,682 L240,752"/>
<path d="M600,690 L1258,1148"/>
<path d="M1258,1148 L1250,1335 M1240,1165 L1228,1338 M1070,1342 L1248,1162 M1095,1338 L1240,1190 M1205,1342 L1228,1338 L1250,1330 M1045,1330 L1075,1345"/>
<path d="M240,760 C205,820 190,900 200,960 C212,1020 215,1060 200,1140 L150,1360"/>
<path d="M915,910 L1145,725"/>
<path d="M1420,840 L1620,955 L1628,895"/>
<path d="M1861,840 L1830,930"/>
<path d="M1810,700 C1815,780 1800,830 1780,862" stroke-width="4.5"/>
<path d="M1450,1355 L1520,1290 L1560,1285 L1775,1075"/>
<path d="M1320,1220 L1580,1000" stroke-width="4"/>
<path d="M1585,985 L1560,1130 M1615,985 L1575,1230" stroke-width="4.5"/>
<path d="M1260,1205 L1310,1250 L1310,1350"/>
<path d="M1622,925 L1630,955 L1650,950 L1660,965 L1680,966" stroke-width="4.5"/>
<!-- wrench handle far part -->
<g stroke-width="8.5">
<path d="M1726,840 L2045,1145"/>
<path d="M1548,838 C1600,880 1650,920 1700,960 L2000,1250"/>
</g>
<path d="M1575,838 C1620,870 1650,900 1680,925 L2012,1238" stroke-width="4.5"/>
<path d="M1700,888 C1705,866 1730,866 1742,886 M1730,930 L2010,1200 M1762,902 L1960,1100" stroke-width="4.5"/>
<!-- hex shaft -->
<g stroke-width="10.5">
<path d="M852,490 L876,426 L1045,420 M852,490 L886,572 L1050,562"/>
</g>
<path d="M856,495 L1030,486"/>
<!-- flange -->
<path d="M1040,395 C1010,330 960,295 900,295 C830,295 745,380 742,500 C742,600 790,680 850,697 C930,715 1020,670 1048,580" stroke-width="11.5"/>
<path d="M775,340 C718,420 716,600 800,692" stroke-width="8.5"/>
<path d="M800,335 C768,400 760,560 808,650 M760,560 L800,650" stroke-width="4.5"/>
<!-- socket / wrench near part / far jaw edge / ball (traced at 6.5x) -->
<g transform="translate(960,120) scale(0.6131)" stroke-width="9.5">
<g stroke-width="17">
<path d="M140,610 C135,540 160,470 210,450 C260,430 360,425 420,440 C450,460 480,510 500,560"/>
<path d="M140,610 C150,700 180,750 230,775 C300,800 400,830 480,860 C560,890 620,920 670,950 C740,990 860,1090 960,1174"/>
<ellipse cx="420" cy="602" rx="80" ry="118" transform="rotate(-8 420 602)"/>
<path d="M272,610 C265,540 290,480 340,465 C370,455 420,460 440,480 M272,610 C275,680 310,740 360,750 C385,752 400,745 410,735"/>
<path d="M500,610 C600,660 720,720 830,790 C920,850 1000,930 1080,1000 L1250,1174"/>
</g>
<path d="M245,640 C240,560 270,480 330,455 M275,720 C300,760 340,770 410,745" stroke-width="7"/>
<path d="M280,595 L320,600 L350,500 M320,600 L350,715 M300,560 L320,600" stroke-width="9"/>
<path d="M300,770 C450,820 600,880 740,950 M790,985 L1000,1150" stroke-width="7"/>
<!-- jaw near edge -->
<path d="M150,800 L750,1174 M255,860 L245,1030 M300,985 L250,1025"/>
<!-- far edge -->
<path d="M0,132 L90,75 L180,130 L320,210 L1395,855"/>
<path d="M370,225 C500,260 600,310 700,370 C800,430 1000,540 1100,600" stroke-width="7"/>
<path d="M1100,610 C1150,560 1250,540 1360,562 M1160,640 C1220,680 1280,720 1300,790" stroke-width="8"/>
<path d="M1395,855 L1380,892 L1180,1080 M1310,745 L1500,855 L1470,1174 M1500,855 L1410,960"/>
<circle cx="1470" cy="662" r="132"/>
<path d="M1400,640 C1395,600 1410,570 1430,560 M1430,735 C1460,770 1510,775 1540,760" stroke-width="7"/>
<!-- block behind flange -->
<path d="M0,180 L180,130 L250,280 C290,330 290,400 270,440 M0,270 L175,140 M0,312 C50,340 90,380 120,420" />
<path d="M85,235 C120,280 150,340 155,400 M110,400 L155,395 L150,470 M110,400 L120,470" stroke-width="7"/>
</g>
<path d="M880,245 L960,228 M1015,165 L925,238 M950,300 L960,292" stroke-width="5"/>
<!-- valve body (traced at 6.5x) -->
<g transform="translate(120,40) scale(0.6131)" stroke-width="9.5">
<!-- boss A -->
<path d="M115,490 L235,395 C228,360 240,330 260,322 L385,300 L410,315 L530,495 L660,480 L730,462"/>
<path d="M115,490 C200,495 310,430 370,352 M240,362 C280,345 340,338 368,342 M275,378 L350,362"/>
<path d="M230,430 C235,446 260,440 265,410" stroke-width="7"/>
<path d="M115,490 L160,590 L240,735 L300,735 L312,725"/>
<path d="M258,520 L335,655 L405,640 M350,625 L505,520 M540,575 L660,490 M312,728 L470,615 L515,610" stroke-width="7"/>
<!-- boss B -->
<path d="M780,165 C790,120 850,92 905,80 L925,86 L945,128 M780,165 L800,200 L796,226 L770,236 L770,300 L810,300 L840,320"/>
<path d="M822,130 C835,112 865,108 878,118 C870,135 840,142 822,130 Z M850,195 L945,140" stroke-width="7"/>
<path d="M945,135 C1000,120 1060,130 1090,160 L1165,300 L1180,322 M1150,240 L1232,350 L1255,332"/>
<ellipse cx="1022" cy="270" rx="64" ry="90" transform="rotate(-8 1022 270)" stroke-width="9"/>
<path d="M1000,240 C1030,262 1030,320 1010,342 M1040,205 C1065,215 1078,240 1080,265 M1060,345 C1080,340 1090,330 1092,318" stroke-width="7"/>
<path d="M905,195 C900,250 910,300 930,335 M1180,322 C1170,380 1140,420 1100,440" stroke-width="7"/>
<!-- small boss -->
<path d="M680,460 L670,390 L690,360 L800,300 L840,320 L880,390"/>
<path d="M690,382 C720,360 780,332 812,318 M700,392 C730,372 770,352 800,340" stroke-width="7"/>
<!-- boss C -->
<path d="M720,520 C760,460 860,400 930,380 L980,386 C960,430 860,490 750,522 Z"/>
<path d="M752,500 C800,462 880,420 932,400" stroke-width="14"/>
<path d="M770,512 C820,488 900,440 945,405" stroke-width="6"/>
<path d="M720,520 L760,600 L825,745 L900,745 M980,386 L1050,482 M825,745 L800,775 M745,640 C765,690 765,730 740,765 L700,790 M675,792 L760,796"/>
<!-- port D -->
<path d="M240,740 L150,810 L125,830 C118,870 140,960 170,1020 C190,1080 230,1102 270,1080 L350,1040 L450,1050 L560,1000 L630,930"/>
<ellipse cx="222" cy="955" rx="66" ry="108" transform="rotate(-16 222 955)" stroke-width="9"/>
<ellipse cx="215" cy="955" rx="40" ry="82" transform="rotate(-16 215 955)" stroke-width="7"/>
<path d="M190,900 L250,1000 M180,930 L240,1020 M205,885 L262,985 M178,965 L225,1030" stroke-width="9"/>
<path d="M150,810 C170,815 190,825 200,840 M300,930 L340,1015 M165,1040 C170,1070 200,1095 235,1098" stroke-width="7"/>
<!-- boss E -->
<path d="M320,915 C380,870 470,830 540,810 L550,800 M320,915 C380,932 480,892 545,832 M320,915 L330,950"/>
<path d="M420,860 C430,882 470,872 485,836" stroke-width="9"/>
<path d="M350,770 L405,825 M440,800 L700,620 L722,615 M505,800 L552,800 L622,890 M572,806 L690,650 M480,1010 L560,975 L632,920" stroke-width="7"/>
<path d="M632,920 L645,850 L680,826 L716,820 M632,920 L690,940 L650,962 L620,940"/>
<!-- main body -->
<path d="M640,940 L790,1070 L850,1030 L1100,1050 L1200,1072"/>
<path d="M730,840 L840,1020 M780,820 L900,1020 M705,940 L790,1066 M930,790 L1080,1040 M962,780 L1100,1010" stroke-width="7"/>
</g>
</g>
</g>
<path d="M432,1871 L363.5,1952" fill="none" stroke="#000" stroke-width="1.4"/>
<text x="347.5" y="1866" font-family="'Liberation Sans','Noto Sans CJK JP',sans-serif" font-weight="700" font-size="15" textLength="202" lengthAdjust="spacing" fill="#000">ストレートヘキサゴンレンチ</text>

<path id="specks" d="M723,5h1v1h-1zM868,13h1v1h-1zM158,4h1v1h-1zM1157,4h1v1h-1zM808,12h1v1h-1zM178,11h1v1h-1zM499,3h1v1h-1zM236,9h1v1h-1zM916,4h1v1h-1zM552,4h1v1h-1zM1188,9h1v1h-1zM181,12h1v1h-1zM313,6h1v1h-1zM1351,13h1v1h-1zM1253,3h1v1h-1zM1241,12h1v1h-1zM872,3h1v1h-1zM512,3h1v1h-1zM1200,5h1v1h-1zM653,9h1v1h-1zM355,11h1v1h-1zM301,12h1v1h-1zM691,11h1v1h-1zM1456,5h1v1h-1zM271,12h1v1h-1zM1229,13h1v1h-1zM444,8h1v1h-1zM259,11h1v1h-1zM1548,66h1v1h-1zM1245,66h1v1h-1zM1357,67h1v1h-1zM1106,71h1v1h-1zM1178,69h1v1h-1zM733,69h1v1h-1zM1289,69h1v1h-1zM830,68h1v1h-1zM598,72h1v1h-1zM458,71h1v1h-1zM589,66h1v1h-1zM1266,68h1v1h-1zM1165,69h1v1h-1zM793,71h1v1h-1zM1009,68h1v1h-1zM1337,66h1v1h-1zM371,88h1v1h-1zM986,85h1v1h-1zM1680,86h1v1h-1zM441,87h1v1h-1zM993,84h1v1h-1zM1498,84h1v1h-1zM1272,88h1v1h-1zM772,86h1v1h-1zM1553,86h1v1h-1zM1347,87h1v1h-1zM1317,87h1v1h-1zM270,84h1v1h-1zM682,87h1v1h-1zM1557,84h1v1h-1zM254,86h1v1h-1zM1455,88h1v1h-1zM1525,87h1v1h-1zM712,87h1v1h-1zM1499,86h1v1h-1zM176,87h1v1h-1zM857,85h1v1h-1zM1381,84h1v1h-1zM1141,84h1v1h-1zM576,86h1v1h-1zM394,85h1v1h-1zM944,87h1v1h-1zM1146,84h1v1h-1zM470,87h1v1h-1zM952,88h1v1h-1zM699,85h1v1h-1zM1011,88h1v1h-1zM700,87h1v1h-1zM864,87h1v1h-1zM602,85h1v1h-1zM299,85h1v1h-1zM439,85h1v1h-1zM1478,85h1v1h-1zM154,87h1v1h-1zM1336,85h1v1h-1zM668,86h1v1h-1zM138,85h1v1h-1zM988,88h1v1h-1zM886,88h1v1h-1zM1289,86h1v1h-1zM387,88h1v1h-1zM1394,84h1v1h-1zM1065,88h1v1h-1zM933,87h1v1h-1zM947,87h1v1h-1zM342,87h1v1h-1zM1429,87h1v1h-1zM257,85h1v1h-1zM267,85h1v1h-1zM1032,85h1v1h-1zM355,86h1v1h-1zM1360,84h1v1h-1zM339,84h1v1h-1zM1290,85h1v1h-1zM1228,84h1v1h-1zM874,88h1v1h-1zM182,84h1v1h-1zM555,88h1v1h-1zM900,85h1v1h-1zM1429,86h1v1h-1zM841,88h1v1h-1zM875,87h1v1h-1zM381,84h1v1h-1zM1129,87h1v1h-1zM1113,87h1v1h-1zM768,84h1v1h-1zM333,2284h1v1h-1zM435,2286h1v1h-1zM505,2285h1v1h-1zM524,2284h1v1h-1zM365,2286h1v1h-1zM335,2284h1v1h-1zM1572,2322h1v1h-1zM630,2323h1v1h-1zM206,2323h1v1h-1zM554,2322h1v1h-1zM771,2319h1v1h-1zM748,2324h1v1h-1zM476,2322h1v1h-1zM1129,2324h1v1h-1zM1049,2320h1v1h-1zM1323,2319h1v1h-1zM1275,2324h1v1h-1zM1634,2324h1v1h-1zM419,2324h1v1h-1zM510,2324h1v1h-1zM840,2323h1v1h-1zM484,2319h1v1h-1zM1080,2321h1v1h-1zM748,2323h1v1h-1zM79,2318h1v1h-1zM1638,2320h1v1h-1zM987,2320h1v1h-1zM416,2323h1v1h-1zM1259,2320h1v1h-1zM935,2324h1v1h-1zM1500,2320h1v1h-1zM766,2318h1v1h-1zM471,2318h1v1h-1zM484,2321h1v1h-1zM422,2320h1v1h-1zM438,2321h1v1h-1zM1298,2322h1v1h-1zM23,2321h1v1h-1zM1357,2320h1v1h-1zM1657,2323h1v1h-1zM193,2324h1v1h-1zM1372,2318h1v1h-1zM815,2324h1v1h-1zM1477,2324h1v1h-1zM428,2321h1v1h-1zM385,2321h1v1h-1zM1636,2323h1v1h-1zM700,2318h1v1h-1zM1660,2323h1v1h-1zM830,2321h1v1h-1zM842,2323h1v1h-1zM193,2323h1v1h-1zM345,2319h1v1h-1zM280,2318h1v1h-1zM329,2322h1v1h-1zM973,2324h1v1h-1zM1363,2319h1v1h-1zM1272,2324h1v1h-1zM1240,2321h1v1h-1zM1366,2320h1v1h-1zM339,2322h1v1h-1zM1142,2319h1v1h-1zM63,2318h1v1h-1zM1657,2323h1v1h-1zM1350,2318h1v1h-1zM1098,2323h1v1h-1zM305,2321h1v1h-1zM418,2324h1v1h-1zM452,2318h1v1h-1zM535,2319h1v1h-1zM619,2322h1v1h-1zM512,2324h1v1h-1zM1221,2320h1v1h-1zM551,2322h1v1h-1zM878,2324h1v1h-1zM288,2318h1v1h-1zM1535,2320h1v1h-1zM958,2323h1v1h-1zM1214,2324h1v1h-1zM1078,2321h1v1h-1zM1047,2319h1v1h-1zM1109,2319h1v1h-1zM1092,2322h1v1h-1zM58,2324h1v1h-1zM921,2324h1v1h-1zM395,2322h1v1h-1zM331,249h1v1h-1zM374,249h1v1h-1zM451,247h1v1h-1zM472,243h1v1h-1zM413,273h1v1h-1zM465,275h1v1h-1zM453,246h1v1h-1zM473,243h1v1h-1zM393,252h1v1h-1zM400,242h1v1h-1zM527,246h1v1h-1zM459,268h1v1h-1zM473,241h1v1h-1zM524,244h1v1h-1zM1293,2013h1v1h-1zM1336,2059h1v1h-1zM1335,2061h1v1h-1zM1231,2107h1v1h-1zM1250,2045h1v1h-1zM1310,2066h1v1h-1zM1302,2059h1v1h-1zM1243,2108h1v1h-1zM1313,1996h1v1h-1zM1323,1981h1v1h-1zM1294,1965h1v1h-1zM1286,1961h1v1h-1zM1280,2043h1v1h-1zM1260,1948h1v1h-1zM1241,2039h1v1h-1zM1198,1984h1v1h-1zM1257,2130h1v1h-1zM1211,2128h1v1h-1zM1219,2113h1v1h-1zM1273,1966h1v1h-1zM1244,1965h1v1h-1zM1299,1986h1v1h-1zM1204,2031h1v1h-1zM1304,1971h1v1h-1zM1237,1971h1v1h-1zM1290,2061h1v1h-1zM1283,2016h1v1h-1zM1287,1980h1v1h-1zM1271,2011h1v1h-1zM1203,2114h1v1h-1zM1273,1934h1v1h-1zM1266,2071h1v1h-1zM1297,2042h1v1h-1zM1184,2028h1v1h-1zM1264,2062h1v1h-1zM1339,2005h1v1h-1zM1311,1946h1v1h-1zM1208,2131h1v1h-1zM1238,1956h1v1h-1zM1201,1997h1v1h-1zM978,470h1v1h-1zM1497,615h1v1h-1zM976,562h1v1h-1zM1539,862h1v1h-1zM1392,694h1v1h-1zM1115,582h1v1h-1zM1249,957h1v1h-1zM1284,936h1v1h-1zM1417,764h1v1h-1zM791,715h1v1h-1zM758,617h1v1h-1zM1135,504h1v1h-1zM975,447h1v1h-1zM1349,520h1v1h-1zM1520,1253h1v1h-1zM785,1233h1v1h-1zM768,1255h1v1h-1zM824,1352h1v1h-1zM711,1293h1v1h-1zM1266,1333h1v1h-1zM974,1186h1v1h-1zM744,1389h1v1h-1zM1426,1242h1v1h-1zM812,1202h1v1h-1zM968,1672h1v1h-1zM885,1711h1v1h-1zM1019,1820h1v1h-1zM1012,1795h1v1h-1zM1477,1712h1v1h-1zM996,1774h1v1h-1zM1212,1705h1v1h-1zM977,1748h1v1h-1zM139,1056h1v1h-1zM148,1040h1v1h-1zM139,1086h1v1h-1zM388,1075h1v1h-1zM227,1072h1v1h-1zM373,1055h1v1h-1zM494,1627h1v1h-1zM548,1766h1v1h-1zM490,1768h1v1h-1zM506,1739h1v1h-1zM480,1729h1v1h-1zM458,1776h1v1h-1zM435,1658h1v1h-1zM467,1650h1v1h-1zM1507,140h1v1h-1zM346,125h1v1h-1zM771,103h1v1h-1zM325,100h1v1h-1zM204,140h1v1h-1zM1577,116h1v1h-1zM942,2235h1v1h-1zM173,2230h1v1h-1zM1422,2278h1v1h-1zM840,2280h1v1h-1zM1096,2267h1v1h-1zM637,2263h1v1h-1zM556,2269h1v1h-1zM660,2227h1v1h-1z" fill="#000" stroke="none"/>


</svg>
<div id="txt">
<div class="t hd" id="hd" style="left:423.60px;top:159.25px;letter-spacing:2.773px;"><span class="w">ステアリング</span><span class="d">–</span>パワーステアリングオイルフローディバイダーバルブ</div>
<div class="t pn" id="pn" style="left:1459.40px;top:158.05px;letter-spacing:1.841px;">11-123</div>
<div class="t ttl" id="ttl" style="left:721.80px;top:234.65px;letter-spacing:1.576px;">パワーステアリングオイルラインフィルター交換</div>
<div class="t hn" id="hn1" style="left:727.00px;top:303.25px;letter-spacing:0.000px;">1</div>
<div class="t h" id="h1" style="left:776.00px;top:305.85px;letter-spacing:1.762px;">パワーステアリングオイルフィルタープラグ取りはずし</div>
<div class="t hn" id="hn2" style="left:727.60px;top:1033.95px;letter-spacing:0.000px;">2</div>
<div class="t h" id="h2" style="left:777.40px;top:1036.30px;letter-spacing:1.625px;">パワーステアリングオイルラインフィルター取りはずし</div>
<div class="t hn" id="hn3" style="left:727.00px;top:1435.25px;letter-spacing:0.000px;">3</div>
<div class="t h" id="h3" style="left:778.80px;top:1437.85px;letter-spacing:1.678px;">パワーステアリングオイルラインフィルター取り付け</div>
<div class="t hn" id="hn4" style="left:727.00px;top:1837.40px;letter-spacing:0.000px;">4</div>
<div class="t h" id="h4" style="left:777.00px;top:1839.70px;letter-spacing:1.748px;">パワーステアリングオイルフィルタープラグ取り付け</div>
<div class="t bn" id="n11" style="left:770.20px;top:352.00px;letter-spacing:0.000px;"><span class="p">(</span>1<span class="p">)</span></div>
<div class="t b" id="b11" style="left:825.80px;top:353.55px;letter-spacing:2.157px;"><span class="l">19mm</span><span class="k">のストレートヘキサゴンレンチ</span>を使用して<span class="cm">,</span>プラグを取</div>
<div class="t b" id="b11c" style="left:825.80px;top:400.25px;letter-spacing:2.894px;">りはずす。</div>
<div class="t bn" id="n12" style="left:771.20px;top:444.00px;letter-spacing:0.000px;"><span class="p">(</span>2<span class="p">)</span></div>
<div class="t b" id="b12" style="left:829.20px;top:446.40px;letter-spacing:1.842px;"><span class="o">O</span>リングおよびウェーブワッシャーを取りはずす。</div>
<div class="t bn" id="n21" style="left:772.40px;top:1082.00px;letter-spacing:0.000px;"><span class="p">(</span>1<span class="p">)</span></div>
<div class="t b" id="b21" style="left:827.60px;top:1084.55px;letter-spacing:1.993px;">オイルフィルターを取りはずす。</div>
<div class="t bn" id="n31" style="left:773.40px;top:1484.00px;letter-spacing:0.000px;"><span class="p">(</span>1<span class="p">)</span></div>
<div class="t b" id="b31" style="left:828.20px;top:1485.65px;letter-spacing:1.769px;">新品の<span class="o">O</span>リングに<span class="cm">,</span>キャッスル・パワーステアリングフルード</div>
<div class="t b" id="b31c" style="left:828.40px;top:1531.00px;letter-spacing:2.092px;">を塗布する。</div>
<div class="t bn" id="n32" style="left:773.40px;top:1575.00px;letter-spacing:0.000px;"><span class="p">(</span>2<span class="p">)</span></div>
<div class="t b" id="b32" style="left:830.00px;top:1577.05px;letter-spacing:1.706px;"><span class="o">O</span>リングを取り付ける。</div>
<div class="t bn" id="n33" style="left:774.40px;top:1623.00px;letter-spacing:0.000px;"><span class="p">(</span>3<span class="p">)</span></div>
<div class="t b" id="b33" style="left:828.20px;top:1624.15px;letter-spacing:1.827px;">新品のオイルフィルターを取り付ける。</div>
<div class="t bn" id="n41" style="left:772.60px;top:1885.00px;letter-spacing:0.000px;"><span class="p">(</span>1<span class="p">)</span></div>
<div class="t b" id="b41" style="left:827.40px;top:1886.95px;letter-spacing:1.786px;">新品の<span class="o">O</span>リングに<span class="cm">,</span>キャッスル・パワーステアリングフルード</div>
<div class="t b" id="b41c" style="left:829.80px;top:1932.25px;letter-spacing:1.982px;">を塗布する。</div>
<div class="t bn" id="n42" style="left:773.60px;top:1976.00px;letter-spacing:0.000px;"><span class="p">(</span>2<span class="p">)</span></div>
<div class="t b" id="b42" style="left:830.80px;top:1978.30px;letter-spacing:1.734px;"><span class="o">O</span>リングを取り付ける。</div>
<div class="t bn" id="n43" style="left:773.60px;top:2023.00px;letter-spacing:0.000px;"><span class="p">(</span>3<span class="p">)</span></div>
<div class="t b" id="b43" style="left:829.80px;top:2024.75px;letter-spacing:1.841px;">ウェーブワッシャーを取り付ける。</div>
<div class="t bn" id="n44" style="left:773.60px;top:2067.00px;letter-spacing:0.000px;"><span class="p">(</span>4<span class="p">)</span></div>
<div class="t b" id="b44" style="left:827.40px;top:2068.75px;letter-spacing:2.190px;"><span class="l">19mm</span><span class="k">のストレートヘキサゴンレンチ</span>を使用して<span class="cm">,</span>プラグを取</div>
<div class="t b" id="b44c" style="left:826.80px;top:2113.65px;letter-spacing:2.757px;">り付ける。</div>
<div class="t tq" id="tq" style="left:831.80px;top:2157.45px;letter-spacing:1.700px;">T＝500kg·cm</div>
</div>
</div>
</body>
</html>
